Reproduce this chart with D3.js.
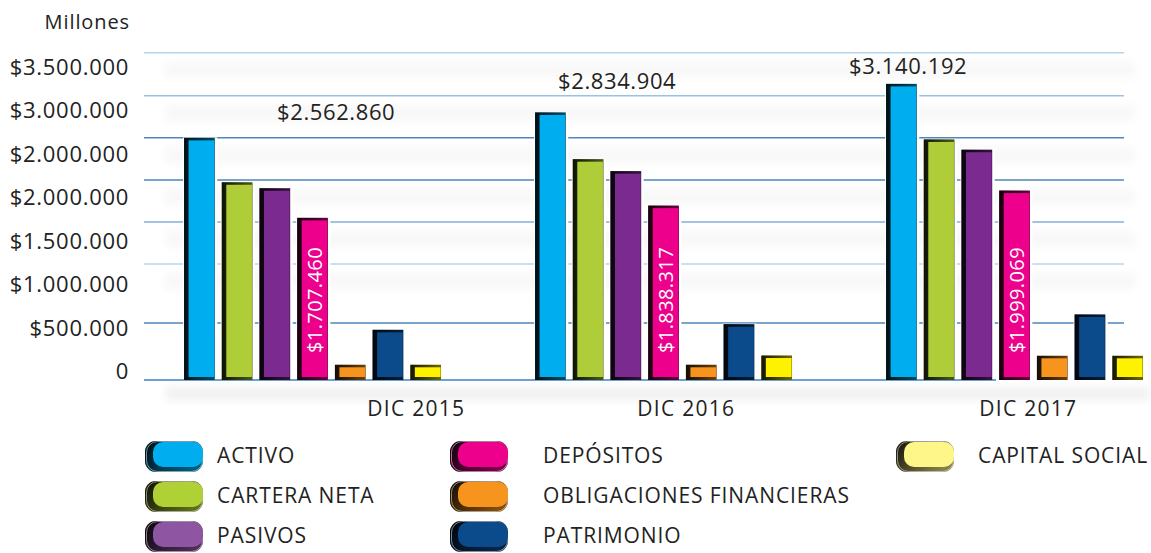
<!DOCTYPE html>
<html>
<head>
<meta charset="utf-8">
<script src="https://cdn.jsdelivr.net/npm/d3@7/dist/d3.min.js"></script>
<style>
  html, body { margin: 0; padding: 0; background: #fff; }
  svg { display: block; font-family: 'Open Sans', sans-serif; }
</style>
</head>
<body>
<svg id="chart" width="1151" height="553"></svg>
<script>
'use strict';

// chart data
var years = ['DIC 2015', 'DIC 2016', 'DIC 2017'];
var series = ['ACTIVO', 'CARTERA NETA', 'PASIVOS', 'DEPÓSITOS',
    'OBLIGACIONES FINANCIERAS', 'PATRIMONIO', 'CAPITAL SOCIAL'];
var activo = [2562860, 2834904, 3140192];
var carteraNeta = [2088000, 2335000, 2546000];
var pasivos = [2024000, 2207000, 2436000];
var depositos = [1707460, 1838317, 1999069];
var obligaciones = [136000, 136000, 232000];
var patrimonio = [510000, 570000, 674000];
var capitalSocial = [136000, 235000, 232000];
var tickLabels = ['$3.500.000', '$3.000.000', '$2.000.000', '$2.000.000',
    '$1.500.000', '$1.000.000', '$500.000', '0'];
var gridValues = [3500000, 3040000, 2590000, 2140000, 1690000, 1240000, 610000];

var barColors = ['#00aeef', '#afcd38', '#7b2b8f', '#ec008c', '#f7941d', '#0b4a8b', '#fff200'];
var legendColors = ['#00aeef', '#b0d136', '#8e55a3', '#ec008c', '#f7941d', '#0b4a8b', '#fff68a'];
var gridColors = ['#b4d3ec', '#9cc2e3', '#4f86bd', '#4f86bd', '#86afd6', '#b8d5ea', '#4f86bd'];

var values = [activo, carteraNeta, pasivos, depositos, obligaciones, patrimonio, capitalSocial];

var svg = d3.select('#chart');
var defs = svg.append('defs');

var baseY = 380;
var y = d3.scaleLinear().domain([0, 3500000]).range([baseY, baseY - 3.5 * 93.5]);

var x0 = d3.scaleBand().domain(years).range([180.3, 180.3 + 351 * 3]);
var x1 = d3.scaleBand().domain(series).range([0, 264])
    .paddingInner(0.2).paddingOuter(0.1);

var yLabel = d3.scalePoint().domain(d3.range(tickLabels.length)).range([67, 371]);

function money (v) {
    return '$' + d3.format(',')(v).replace(/,/g, '.');
}

// soft shading
defs.append('filter').attr('id', 'soft')
    .attr('x', '-10%').attr('y', '-100%').attr('width', '120%').attr('height', '300%')
    .append('feGaussianBlur').attr('stdDeviation', 4);

var shade = defs.append('linearGradient').attr('id', 'shade')
    .attr('x1', 0).attr('x2', 1).attr('y1', 0).attr('y2', 0);
shade.append('stop').attr('offset', '0%').attr('stop-color', '#000').attr('stop-opacity', 0.85);
shade.append('stop').attr('offset', '100%').attr('stop-color', '#000').attr('stop-opacity', 0.25);

var pillShade = defs.append('linearGradient').attr('id', 'pillShade')
    .attr('x1', 0).attr('x2', 1).attr('y1', 0).attr('y2', 0.4);
pillShade.append('stop').attr('offset', '0%').attr('stop-color', '#000').attr('stop-opacity', 0.9);
pillShade.append('stop').attr('offset', '60%').attr('stop-color', '#000').attr('stop-opacity', 0.45);
pillShade.append('stop').attr('offset', '100%').attr('stop-color', '#000').attr('stop-opacity', 0.2);

// faint bands between the grid lines
var bandG = svg.append('g').attr('filter', 'url(#soft)');
bandG.selectAll('rect')
    .data(gridValues.slice(0, -1))
    .enter()
    .append('rect')
    .attr('x', 165)
    .attr('width', 970)
    .attr('y', function (d) { return y(d) + 9; })
    .attr('height', 16)
    .attr('fill', '#f8f8f8');
bandG.append('rect')
    .attr('x', 165).attr('width', 985)
    .attr('y', baseY + 7).attr('height', 13)
    .attr('fill', '#f1f1f1');

// grid lines
svg.append('g').selectAll('line')
    .data(gridValues)
    .enter()
    .append('line')
    .attr('x1', 144)
    .attr('x2', 1124)
    .attr('y1', function (d) { return y(d); })
    .attr('y2', function (d) { return y(d); })
    .attr('stroke', function (d, i) { return gridColors[i]; })
    .attr('stroke-width', 1.5);

svg.append('line')
    .attr('x1', 144).attr('x2', 996)
    .attr('y1', baseY).attr('y2', baseY)
    .attr('stroke', '#3b82c4').attr('stroke-width', 1.5);

// y labels
svg.append('text')
    .attr('x', 130).attr('y', 29)
    .attr('text-anchor', 'end')
    .attr('font-size', 20)
    .attr('letter-spacing', 0.9)
    .attr('fill', '#222')
    .text('Millones');

svg.append('g').selectAll('text')
    .data(tickLabels)
    .enter()
    .append('text')
    .attr('x', 129)
    .attr('y', function (d, i) { return yLabel(i) + 8; })
    .attr('text-anchor', 'end')
    .attr('font-size', 22)
    .attr('letter-spacing', 0.7)
    .attr('fill', '#222')
    .text(function (d) { return d; });

// bars
var groups = svg.append('g').selectAll('g')
    .data(years)
    .enter()
    .append('g')
    .attr('transform', function (d) { return 'translate(' + x0(d) + ',0)'; });

var bars = groups.selectAll('g')
    .data(function (yr, yi) {
        return series.map(function (s, si) {
            return { year: yr, serie: s, si: si, value: values[si][yi] };
        });
    })
    .enter()
    .append('g')
    .attr('transform', function (d) { return 'translate(' + x1(d.serie) + ',0)'; });

var bw = x1.bandwidth();
var edge = 4.5;

// white halo so grid lines stop short of the bars
bars.append('rect')
    .attr('x', -1)
    .attr('width', bw + 4)
    .attr('y', function (d) { return y(d.value) - 3; })
    .attr('height', function (d) { return baseY - y(d.value) + 2; })
    .attr('fill', '#fff');

bars.append('rect')
    .attr('x', 0)
    .attr('width', bw + 0.5)
    .attr('y', function (d) { return y(d.value) - 2.5; })
    .attr('height', function (d) { return baseY - y(d.value) + 2.5; })
    .attr('fill', function (d) { return d3.color(barColors[d.si]).darker(1.5); });

bars.append('rect')
    .attr('x', 0)
    .attr('width', bw + 0.5)
    .attr('y', function (d) { return y(d.value) - 2.5; })
    .attr('height', function (d) { return baseY - y(d.value) + 2.5; })
    .attr('fill', 'url(#shade)');

bars.append('rect')
    .attr('x', edge)
    .attr('width', bw - edge)
    .attr('y', function (d) { return y(d.value); })
    .attr('height', function (d) { return Math.max(0, baseY - 3 - y(d.value)); })
    .attr('fill', function (d) { return barColors[d.si]; });

// values written inside the DEPÓSITOS bars
bars.filter(function (d) { return d.serie === 'DEPÓSITOS'; })
    .append('text')
    .attr('transform', 'translate(' + (edge + (bw - edge) / 2 + 7) + ',' + (baseY - 27) + ') rotate(-90)')
    .attr('font-size', 20)
    .attr('letter-spacing', 0.4)
    .attr('fill', '#fff')
    .text(function (d) { return money(d.value); });

// totals over the groups
var totalOffset = { 'DIC 2015': [137, -20], 'DIC 2016': [67, -26], 'DIC 2017': [7, -12] };
svg.append('g').selectAll('text')
    .data(years)
    .enter()
    .append('text')
    .attr('x', function (d) { return x0(d) + x1('ACTIVO') + bw / 2 + totalOffset[d][0]; })
    .attr('y', function (d, i) { return y(activo[i]) + totalOffset[d][1]; })
    .attr('text-anchor', 'middle')
    .attr('font-size', 22)
    .attr('letter-spacing', 0.6)
    .attr('fill', '#222')
    .text(function (d, i) { return money(activo[i]); });

// category labels
var catOffset = { 'DIC 2015': 236, 'DIC 2016': 155, 'DIC 2017': 146 };
svg.append('g').selectAll('text')
    .data(years)
    .enter()
    .append('text')
    .attr('x', function (d) { return x0(d) + catOffset[d]; })
    .attr('y', 416)
    .attr('text-anchor', 'middle')
    .attr('font-size', 21)
    .attr('letter-spacing', 1.3)
    .attr('fill', '#222')
    .text(function (d) { return d; });

// legend
var legSwatchX = [145, 450, 896];
var legTextX = [217, 543, 978];
var legend = svg.append('g').selectAll('g')
    .data(series)
    .enter()
    .append('g')
    .attr('transform', function (d, i) {
        return 'translate(' + legSwatchX[Math.floor(i / 3)] + ',' + (441 + (i % 3) * 40) + ')';
    });

legend.append('rect')
    .attr('width', 58).attr('height', 31).attr('rx', 11)
    .attr('fill', function (d, i) { return d3.color(legendColors[i]).darker(1.2); });
legend.append('rect')
    .attr('width', 58).attr('height', 31).attr('rx', 11)
    .attr('fill', 'url(#pillShade)');
legend.append('rect')
    .attr('x', 1.5).attr('y', 0.5)
    .attr('width', 56).attr('height', 30).attr('rx', 11)
    .attr('fill', 'none')
    .attr('stroke', '#fff').attr('stroke-opacity', 0.5).attr('stroke-width', 1);
legend.append('rect')
    .attr('x', 8).attr('y', 1)
    .attr('width', 50).attr('height', 25).attr('rx', 10)
    .attr('fill', function (d, i) { return legendColors[i]; });

legend.append('text')
    .attr('x', function (d, i) { return legTextX[Math.floor(i / 3)] - legSwatchX[Math.floor(i / 3)]; })
    .attr('y', 22)
    .attr('font-size', 21)
    .attr('letter-spacing', 0.9)
    .attr('fill', '#222')
    .text(function (d) { return d; });
</script>
</body>
</html>
